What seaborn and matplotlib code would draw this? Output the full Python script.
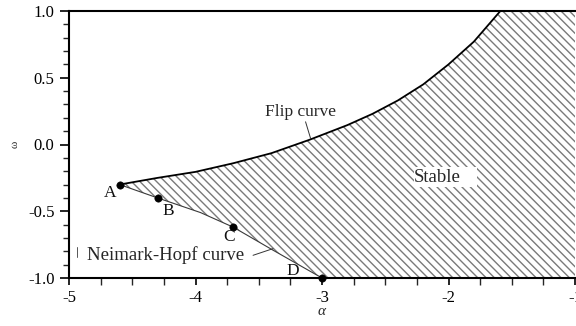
import matplotlib
matplotlib.use("Agg")
import matplotlib.pyplot as plt
from matplotlib.patches import Rectangle
import seaborn as sns
import pandas as pd

# Flip bifurcation curve in the (alpha, omega) plane
flip_alpha = [-4.60, -4.30, -4.00, -3.70, -3.40, -3.10, -2.80, -2.60, -2.40, -2.20, -2.00, -1.80, -1.59]
flip_omega = [-0.30, -0.25, -0.205, -0.14, -0.065, 0.035, 0.145, 0.23, 0.33, 0.45, 0.60, 0.77, 1.00]

# Neimark-Hopf bifurcation curve
nh_alpha = [-4.60, -4.30, -3.96, -3.70, -3.39, -3.00]
nh_omega = [-0.30, -0.40, -0.51, -0.62, -0.79, -1.00]

# Marked points on the Neimark-Hopf curve
pt_names = ["A", "B", "C", "D"]
pt_alpha = [-4.60, -4.30, -3.70, -3.00]
pt_omega = [-0.30, -0.40, -0.62, -1.00]

x_ticks = [-5, -4, -3, -2, -1]
y_ticks = [-1.0, -0.5, 0.0, 0.5, 1.0]

sns.set_theme(style="ticks")
plt.rcParams["font.family"] = ["Liberation Serif", "DejaVu Serif"]
plt.rcParams["hatch.linewidth"] = 1.0

fig = plt.figure(figsize=(5.76, 3.26), dpi=100)
ax = fig.add_axes([69 / 576, 48 / 326, 506 / 576, 267 / 326])

# Stable region: bounded by the flip curve, the Neimark-Hopf curve and the frame
xmin, xmax = x_ticks[0], x_ticks[-1]
ymin, ymax = y_ticks[0], y_ticks[-1]
poly_x = flip_alpha + [xmax, xmax] + nh_alpha[::-1]
poly_y = flip_omega + [ymax, ymin] + nh_omega[::-1]
ax.fill(poly_x, poly_y, facecolor="white", edgecolor="#7a7a7a", linewidth=0,
        hatch="\\\\\\\\", zorder=1)

flip_df = pd.DataFrame({"alpha": flip_alpha, "omega": flip_omega})
nh_df = pd.DataFrame({"alpha": nh_alpha, "omega": nh_omega})
pts_df = pd.DataFrame({"alpha": pt_alpha, "omega": pt_omega, "name": pt_names})

sns.lineplot(data=flip_df, x="alpha", y="omega", ax=ax, color="black", lw=1.3,
             sort=False, estimator=None, zorder=3)
sns.lineplot(data=nh_df, x="alpha", y="omega", ax=ax, color="#3a3a3a", lw=0.8,
             sort=False, estimator=None, zorder=3)
sns.scatterplot(data=pts_df, x="alpha", y="omega", ax=ax, color="black", s=28,
                edgecolor="black", zorder=4, clip_on=False)

# Point labels
label_pos = {"A": (-4.676, -0.36), "B": (-4.217, -0.50), "C": (-3.735, -0.695), "D": (-3.23, -0.95)}
for name in pt_names:
    lx, ly = label_pos[name]
    ax.text(lx, ly, name, fontsize=12.5, ha="center", va="center", color="#111111", zorder=5)

# Curve annotations
ax.text(-3.17, 0.24, "Flip curve", fontsize=12.5, ha="center", va="center", zorder=5)
ax.plot([-3.13, -3.09], [0.17, 0.045], color="#333333", lw=0.7, zorder=5)
ax.text(-4.858, -0.83, "Neimark-Hopf curve", fontsize=13.5, ha="left", va="center", zorder=5)
ax.plot([-3.545, -3.387], [-0.83, -0.78], color="#333333", lw=0.7, zorder=5)
ax.plot([-4.937, -4.937], [-0.77, -0.84], color="#555555", lw=0.7, zorder=5)

# Region label on a blank patch inside the hatching
ax.add_patch(Rectangle((-2.27, -0.322), 0.495, 0.157, facecolor="white",
                       edgecolor="none", zorder=4))
ax.text(-2.09, -0.245, "Stable", fontsize=13.5, ha="center", va="center", zorder=5)

ax.set_xlim(xmin, xmax)
ax.set_ylim(ymin, ymax)
ax.set_xticks(x_ticks)
ax.set_yticks(y_ticks)
ax.set_xticklabels([str(v) for v in x_ticks])
ax.set_yticklabels([f"{v:.1f}" for v in y_ticks])
ax.xaxis.set_minor_locator(matplotlib.ticker.MultipleLocator(0.25))
ax.yaxis.set_minor_locator(matplotlib.ticker.MultipleLocator(0.1))
ax.tick_params(axis="both", which="major", direction="out", width=1.2, labelsize=12, colors="black")
ax.tick_params(axis="x", which="major", length=5, pad=4)
ax.tick_params(axis="x", which="minor", direction="out", length=5, width=1.0)
ax.tick_params(axis="y", which="major", length=6.5, pad=4)
ax.tick_params(axis="y", which="minor", direction="out", length=4, width=1.0)

for side in ["left", "bottom", "top"]:
    ax.spines[side].set_linewidth(1.5)
    ax.spines[side].set_color("black")
ax.spines["right"].set_visible(False)

ax.set_xlabel("α", fontsize=11, labelpad=-1, style="italic")
ax.set_ylabel("ω", fontsize=8, labelpad=6)

fig.savefig("out.png", dpi=100)
